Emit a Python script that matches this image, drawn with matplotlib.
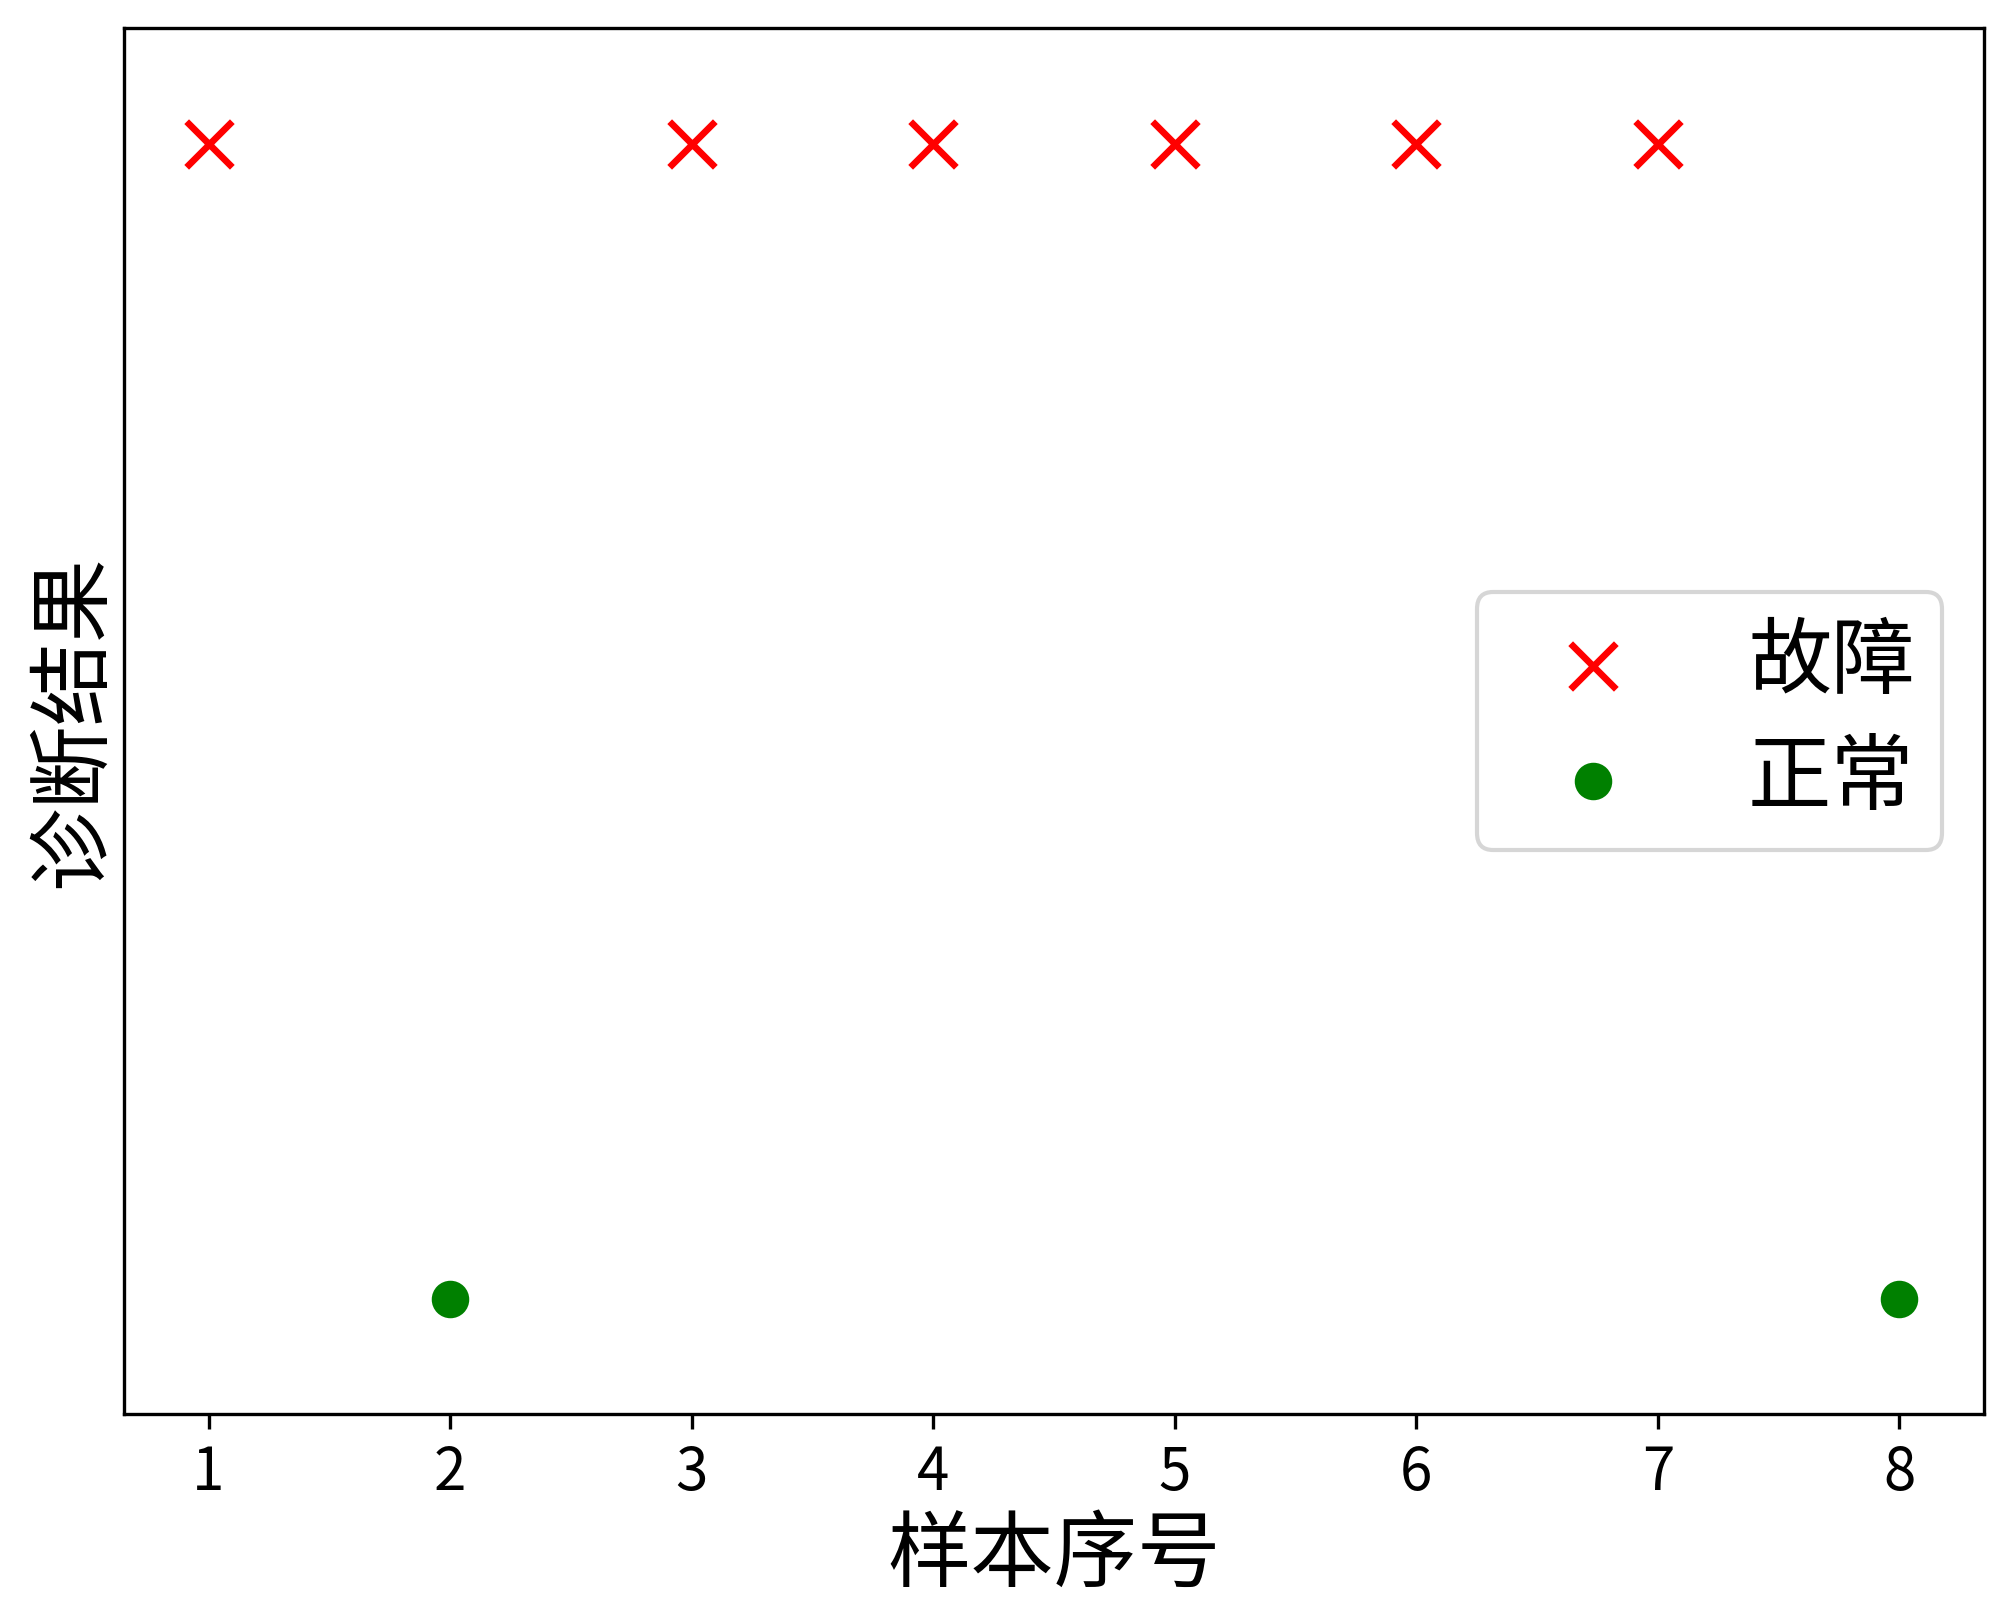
import matplotlib
matplotlib.use("Agg")
import matplotlib.pyplot as plt

plt.rcParams['font.family'] = ['Noto Sans CJK SC', 'DejaVu Sans']
plt.rcParams['axes.unicode_minus'] = False

fault_x = [1, 3, 4, 5, 6, 7]
fault_y = [1, 1, 1, 1, 1, 1]
normal_x = [2, 8]
normal_y = [0, 0]
xticks = [1, 2, 3, 4, 5, 6, 7, 8]

fig = plt.figure(figsize=(2014/300, 1619/300), dpi=300)
ax = fig.add_axes([124/2014, 1-1414/1619, (1984-124)/2014, (1414-28)/1619])

ax.scatter(fault_x, fault_y, marker='x', color='red', s=120, linewidths=1.6, label='故障')
ax.scatter(normal_x, normal_y, marker='o', color='green', s=64, label='正常')

ax.set_xticks(xticks)
ax.set_xticklabels([str(v) for v in xticks], fontsize=14)
ax.set_yticks([])
ax.set_ylim(-0.1, 1.1)
ax.set_xlabel('样本序号', fontsize=20, labelpad=2)
ax.set_ylabel('诊断结果', fontsize=20, labelpad=2)
ax.legend(loc='center right', fontsize=20, labelspacing=0.35, borderpad=0.33,
          handlelength=2.125)

fig.savefig('out.png', dpi=300)
